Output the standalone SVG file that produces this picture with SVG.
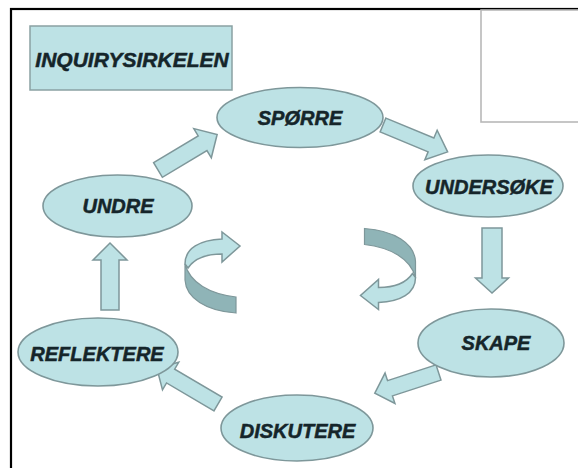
<svg xmlns="http://www.w3.org/2000/svg" xmlns:xlink="http://www.w3.org/1999/xlink" width="578" height="468" viewBox="0 0 578 468">
<style>
.node{fill:#bde2e5;stroke:#7e979a;stroke-width:1.6}
.arr{fill:#bde2e5;stroke:#7e979a;stroke-width:1.5;stroke-linejoin:miter}
.dark{fill:#8fb4b7;stroke:#7e979a;stroke-width:1.2}
.lbl{font-family:"Liberation Sans",Arial,sans-serif;font-weight:bold;font-style:italic;font-size:20px;fill:#15252a;stroke:#15252a;stroke-width:0.5;text-anchor:middle}
</style>
<defs>
<g id="curl">
<path class="dark" d="M185,264 C190,283 210,294 236,297 L236,313 C206,311 186,298 185,280 Z"/>
<path class="arr" d="M185,264 C185,248 200,240 222,239 L222,232 L240,246 L222,262 L222,254 C206,254 194,259 188,268 Z"/>
</g>
</defs>
<rect x="0" y="0" width="578" height="468" fill="#ffffff"/>
<rect x="11" y="9" width="620" height="520" fill="none" stroke="#000" stroke-width="2.2"/>
<rect x="481" y="10" width="120" height="112" fill="#fff" stroke="#b8b8b8" stroke-width="1.6"/>
<g id="title">
<rect x="30" y="26" width="202" height="64" fill="#bde2e5" stroke="#8aa1a3" stroke-width="1.5"/>
<text class="lbl" x="132" y="67" style="font-size:21px">INQUIRYSIRKELEN</text>
</g>
<g id="connectors">
<polygon class="arr" transform="translate(158,170) rotate(-31)" points="0,-8.5 52,-8.5 52,-17 69,0 52,17 52,8.5 0,8.5"/>
<polygon class="arr" transform="translate(383,125) rotate(22.6)" points="0,-7.5 52,-7.5 52,-16 70,0 52,16 52,7.5 0,7.5"/>
<polygon class="arr" transform="translate(492,228) rotate(90)" points="0,-10 50,-10 50,-16.5 65,0 50,16.5 50,10 0,10"/>
<polygon class="arr" transform="translate(438.5,372.5) rotate(162)" points="0,-8 51,-8 51,-16 67,0 51,16 51,8 0,8"/>
<polygon class="arr" transform="translate(218,404) rotate(210.5)" points="0,-8 55,-8 55,-16 71,0 55,16 55,8 0,8"/>
<polygon class="arr" transform="translate(110,310) rotate(-90)" points="0,-9 50,-9 50,-17 67,0 50,17 50,9 0,9"/>
<use xlink:href="#curl" href="#curl"/>
<use xlink:href="#curl" href="#curl" transform="rotate(180 300.25 270.75)"/>
</g>
<g id="n-sporre"><ellipse class="node" cx="300" cy="117.5" rx="83" ry="30"/><text class="lbl" x="300" y="125">SPØRRE</text></g>
<g id="n-undersoke"><ellipse class="node" cx="488" cy="186" rx="75" ry="31"/><text class="lbl" x="489" y="194">UNDERSØKE</text></g>
<g id="n-skape"><ellipse class="node" cx="491" cy="343" rx="73" ry="34"/><text class="lbl" x="496" y="350">SKAPE</text></g>
<g id="n-diskutere"><ellipse class="node" cx="297" cy="428" rx="76" ry="33"/><text class="lbl" x="297.5" y="438">DISKUTERE</text></g>
<g id="n-reflektere"><ellipse class="node" cx="98" cy="352" rx="80" ry="34"/><text class="lbl" x="97" y="361">REFLEKTERE</text></g>
<g id="n-undre"><ellipse class="node" cx="117.5" cy="206" rx="74.5" ry="31"/><text class="lbl" x="118" y="213">UNDRE</text></g>
</svg>
